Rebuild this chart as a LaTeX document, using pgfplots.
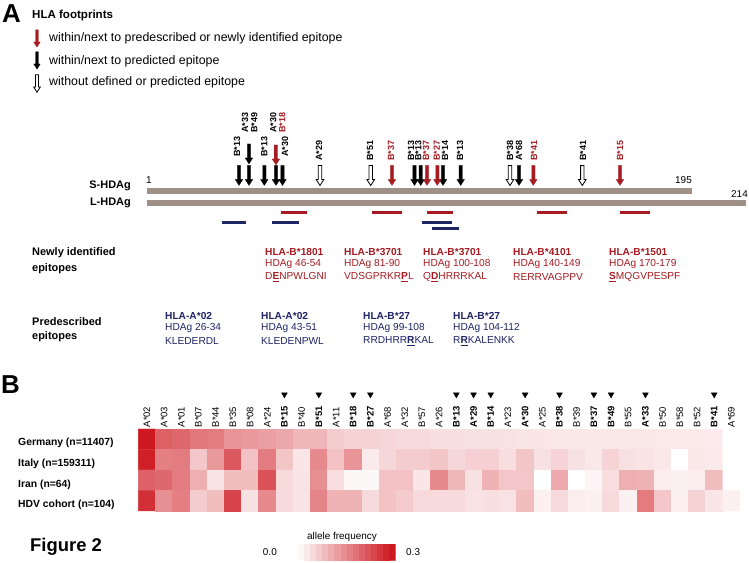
\documentclass[border=0pt]{standalone}
\usepackage{pgfplots}
\pgfplotsset{compat=1.18}
\usepackage{fontspec}
\setmainfont{Liberation Sans}

\definecolor{dred}{RGB}{165,27,33}
\definecolor{dblue}{RGB}{30,36,100}
\definecolor{taupe}{RGB}{158,144,134}

\newcommand\fs[1]{\fontsize{#1}{#1}\selectfont}

\pgfdeclareplotmark{hdarrow}{%
  \pgfpathmoveto{\pgfqpoint{-0.17\pgfplotmarksize}{\pgfplotmarksize}}%
  \pgfpathlineto{\pgfqpoint{0.17\pgfplotmarksize}{\pgfplotmarksize}}%
  \pgfpathlineto{\pgfqpoint{0.17\pgfplotmarksize}{-0.4\pgfplotmarksize}}%
  \pgfpathlineto{\pgfqpoint{0.38\pgfplotmarksize}{-0.4\pgfplotmarksize}}%
  \pgfpathlineto{\pgfqpoint{0pt}{-\pgfplotmarksize}}%
  \pgfpathlineto{\pgfqpoint{-0.38\pgfplotmarksize}{-0.4\pgfplotmarksize}}%
  \pgfpathlineto{\pgfqpoint{-0.17\pgfplotmarksize}{-0.4\pgfplotmarksize}}%
  \pgfpathclose
  \pgfusepathqfillstroke
}

\pgfplotsset{hlamap/.style={colormap={hla}{rgb255(0cm)=(255,255,255); rgb255(1cm)=(204,18,26)},
  point meta min=0, point meta max=0.3}}

\newcommand\lab[4]{\node[rotate=90,anchor=west,inner sep=0,text=#4] at (#1,#2) {\fs{9}\bfseries #3};}

\begin{document}
\begin{tikzpicture}
\useasboundingbox (0,0) rectangle (749bp,563bp);

% ---------------- Panel A: residues on x, pixel rows on y
\begin{axis}[at={(0,0)}, anchor=south west, scale only axis,
  width=749bp, height=563bp, xmin=-51.33, xmax=215.31, ymin=0, ymax=563,
  y dir=reverse, hide axis, clip=false]
% protein bars
\addplot[taupe, line width=5.5bp] coordinates {(1,191) (195,191)};
\addplot[taupe, line width=5.5bp] coordinates {(1,203) (214.2,203)};
% newly identified epitopes
\addplot[dred, line width=3.2bp] coordinates {(48.6,212.3) (58.1,212.3)};
\addplot[dred, line width=3.2bp] coordinates {(81.0,212.3) (91.7,212.3)};
\addplot[dred, line width=3.2bp] coordinates {(100.6,212.3) (110.0,212.3)};
\addplot[dred, line width=3.2bp] coordinates {(139.7,212.3) (150.4,212.3)};
\addplot[dred, line width=3.2bp] coordinates {(169.4,212.3) (180.1,212.3)};
% predescribed epitopes
\addplot[dblue, line width=3.2bp] coordinates {(27.8,222.5) (36.2,222.5)};
\addplot[dblue, line width=3.2bp] coordinates {(45.4,222.5) (55.0,222.5)};
\addplot[dblue, line width=3.2bp] coordinates {(99.0,222.5) (109.7,222.5)};
\addplot[dblue, line width=3.2bp] coordinates {(102.6,228.3) (112.2,228.3)};
% footprint arrows
\addplot[black, only marks, mark=hdarrow, mark size=10bp, mark options={fill=black, draw=black, line width=0.2bp}]
 coordinates {(33.75,175.5) (37.31,175.5) (42.76,175.5) (46.92,175.5) (49.24,175.5)
  (96.23,175.5) (98.44,175.5) (106.38,175.5) (112.68,175.5) (133.43,175.5) (37.3,154)};
\addplot[dred, only marks, mark=hdarrow, mark size=10bp, mark options={fill=dred, draw=dred, line width=0.2bp}]
 coordinates {(88.22,175.5) (100.68,175.5) (104.35,175.5) (138.52,175.5) (169.39,175.5) (46.9,155)};
\addplot[black, only marks, mark=hdarrow, mark size=10bp, mark options={fill=white, draw=black, line width=0.8bp}]
 coordinates {(62.59,175.5) (80.64,175.5) (130.23,175.5) (155.97,175.5)};
% legend arrows
\addplot[dred, only marks, mark=hdarrow, mark size=8.7bp, mark options={fill=dred, draw=dred, line width=0.2bp}]
 coordinates {(-38.16,38.5)};
\addplot[black, only marks, mark=hdarrow, mark size=8.7bp, mark options={fill=black, draw=black, line width=0.2bp}]
 coordinates {(-38.16,60.5)};
\addplot[black, only marks, mark=hdarrow, mark size=8.7bp, mark options={fill=white, draw=black, line width=0.8bp}]
 coordinates {(-38.16,83.5)};
\end{axis}

% ---------------- Panel B: heatmap
\begin{axis}[at={(138.3bp,134bp)}, anchor=north west, scale only axis,
  width=601.7bp, height=82bp, xmin=-0.5, xmax=34.5, ymin=-0.5, ymax=3.5,
  y dir=reverse, enlargelimits=false, clip=false, hlamap,
  axis line style={draw=none}, tick style={draw=none}, ytick=\empty,
  xtick={0,...,34}, xticklabel pos=upper,
  xticklabel style={rotate=90, anchor=west, inner sep=1.5bp, font=\fs{9.5}},
  xticklabels={A*02,A*03,A*01,B*07,B*44,B*35,B*08,A*24,\textbf{B*15},B*40,\textbf{B*51},A*11,\textbf{B*18},\textbf{B*27},A*68,A*32,B*57,A*26,\textbf{B*13},\textbf{A*29},\textbf{B*14},A*23,\textbf{A*30},A*25,\textbf{B*38},B*39,\textbf{B*37},\textbf{B*49},B*55,\textbf{A*33},B*50,B*58,B*52,\textbf{B*41},A*69}]
\addplot[matrix plot*, shader=flat corner, mesh/cols=35, mesh/rows=4, point meta=explicit]
 table[meta=c, row sep=\\] {x y c\\
0 0 0.29\\ 1 0 0.20\\ 2 0 0.19\\ 3 0 0.17\\ 4 0 0.165\\ 5 0 0.135\\ 6 0 0.13\\ 7 0 0.12\\ 8 0 0.11\\ 9 0 0.09\\ 10 0 0.09\\ 11 0 0.064\\ 12 0 0.057\\ 13 0 0.057\\ 14 0 0.051\\ 15 0 0.045\\ 16 0 0.045\\ 17 0 0.04\\ 18 0 0.04\\ 19 0 0.038\\ 20 0 0.038\\ 21 0 0.036\\ 22 0 0.032\\ 23 0 0.032\\ 24 0 0.03\\ 25 0 0.03\\ 26 0 0.03\\ 27 0 0.03\\ 28 0 0.03\\ 29 0 0.03\\ 30 0 0.028\\ 31 0 0.027\\ 32 0 0.027\\ 33 0 0.025\\ 34 0 0\\
0 1 0.28\\ 1 1 0.16\\ 2 1 0.165\\ 3 1 0.07\\ 4 1 0.13\\ 5 1 0.21\\ 6 1 0.077\\ 7 1 0.165\\ 8 1 0.073\\ 9 1 0.032\\ 10 1 0.147\\ 11 1 0.077\\ 12 1 0.134\\ 13 1 0.026\\ 14 1 0.05\\ 15 1 0.064\\ 16 1 0.064\\ 17 1 0.073\\ 18 1 0.05\\ 19 1 0.06\\ 20 1 0.06\\ 21 1 0.042\\ 22 1 0.073\\ 23 1 0.038\\ 24 1 0.055\\ 25 1 0.038\\ 26 1 0.03\\ 27 1 0.055\\ 28 1 0.038\\ 29 1 0.035\\ 30 1 0.03\\ 31 1 0\\ 32 1 0.03\\ 33 1 0.026\\ 34 1 0\\
0 2 0.198\\ 1 2 0.19\\ 2 2 0.165\\ 3 2 0.1\\ 4 2 0.034\\ 5 2 0.083\\ 6 2 0.083\\ 7 2 0.217\\ 8 2 0.045\\ 9 2 0.034\\ 10 2 0.14\\ 11 2 0.042\\ 12 2 0.009\\ 13 2 0.009\\ 14 2 0.077\\ 15 2 0.077\\ 16 2 0.032\\ 17 2 0.147\\ 18 2 0.09\\ 19 2 0.038\\ 20 2 0.096\\ 21 2 0.07\\ 22 2 0.07\\ 23 2 0\\ 24 2 0.108\\ 25 2 0\\ 26 2 0.013\\ 27 2 0.042\\ 28 2 0.1\\ 29 2 0.096\\ 30 2 0.022\\ 31 2 0.017\\ 32 2 0.024\\ 33 2 0.083\\ 34 2 0\\
0 3 0.26\\ 1 3 0.14\\ 2 3 0.16\\ 3 3 0.064\\ 4 3 0.083\\ 5 3 0.236\\ 6 3 0.038\\ 7 3 0.147\\ 8 3 0.047\\ 9 3 0.034\\ 10 3 0.153\\ 11 3 0.096\\ 12 3 0.096\\ 13 3 0.047\\ 14 3 0.077\\ 15 3 0.064\\ 16 3 0.047\\ 17 3 0.047\\ 18 3 0.045\\ 19 3 0.037\\ 20 3 0.04\\ 21 3 0.037\\ 22 3 0.083\\ 23 3 0.019\\ 24 3 0.047\\ 25 3 0.024\\ 26 3 0.019\\ 27 3 0.045\\ 28 3 0.017\\ 29 3 0.166\\ 30 3 0.07\\ 31 3 0.019\\ 32 3 0.057\\ 33 3 0.032\\ 34 3 0.019\\
};
\addplot[black, only marks, mark=triangle*, mark size=3.3bp, mark options={rotate=180, fill=black}]
 coordinates {(8,-2.18) (10,-2.18) (12,-2.18) (13,-2.18) (18,-2.18) (19,-2.18) (20,-2.18) (22,-2.18) (24,-2.18) (26,-2.18) (27,-2.18) (29,-2.18) (33,-2.18)};
\end{axis}

% ---------------- colour scale
\begin{axis}[at={(298bp,19bp)}, anchor=north west, scale only axis,
  width=97.7bp, height=16.7bp, xmin=-0.5, xmax=15.5, ymin=-0.5, ymax=1.5,
  hide axis, enlargelimits=false, hlamap]
\addplot[matrix plot*, shader=flat corner, mesh/cols=16, mesh/rows=2, point meta=explicit]
 table[meta=c, row sep=\\] {x y c\\
0 0 0.0094\\ 1 0 0.0281\\ 2 0 0.0469\\ 3 0 0.0656\\ 4 0 0.0844\\ 5 0 0.1031\\ 6 0 0.1219\\ 7 0 0.1406\\ 8 0 0.1594\\ 9 0 0.1781\\ 10 0 0.1969\\ 11 0 0.2156\\ 12 0 0.2344\\ 13 0 0.2531\\ 14 0 0.2719\\ 15 0 0.2906\\
0 1 0.0094\\ 1 1 0.0281\\ 2 1 0.0469\\ 3 1 0.0656\\ 4 1 0.0844\\ 5 1 0.1031\\ 6 1 0.1219\\ 7 1 0.1406\\ 8 1 0.1594\\ 9 1 0.1781\\ 10 1 0.1969\\ 11 1 0.2156\\ 12 1 0.2344\\ 13 1 0.2531\\ 14 1 0.2719\\ 15 1 0.2906\\
};
\end{axis}

% ---------------- texts (pixel coordinates, y downwards)
\begin{scope}[shift={(0bp,563bp)}, x=1bp, y=-1bp]
\node[anchor=north west, inner sep=0] at (2,4.5) {\fs{26}\bfseries A};
\node[anchor=west, inner sep=0] at (32,16) {\fs{11.6}\bfseries HLA footprints};
\node[anchor=west, inner sep=0] at (49,38.3) {\fs{12.4}within/next to predescribed or newly identified epitope};
\node[anchor=west, inner sep=0] at (49,61.5) {\fs{12.4}within/next to predicted epitope};
\node[anchor=west, inner sep=0] at (49,82) {\fs{12.4}without defined or predicted epitope};

\node[anchor=east, inner sep=0] at (131,186) {\fs{11}\bfseries S-HDAg};
\node[anchor=east, inner sep=0] at (131,203) {\fs{11}\bfseries L-HDAg};
\node[anchor=west, inner sep=0] at (146,180) {\fs{10}1};
\node[anchor=east, inner sep=0] at (692,180) {\fs{10}195};
\node[anchor=east, inner sep=0] at (748,194) {\fs{10}214};

\lab{237}{157}{B*13}{black}
\lab{245}{133}{A*33}{black}
\lab{254.3}{133}{B*49}{black}
\lab{264.3}{157}{B*13}{black}
\lab{273.3}{133}{A*30}{black}
\lab{282.3}{133}{B*18}{dred}
\lab{285}{157}{A*30}{black}
\lab{319}{161}{A*29}{black}
\lab{370}{161}{B*51}{black}
\lab{391}{161}{B*37}{dred}
\lab{411}{161}{B*13}{black}
\lab{418.3}{161}{B*13}{black}
\lab{426}{161}{B*37}{dred}
\lab{436.7}{161}{B*27}{dred}
\lab{445}{161}{B*14}{black}
\lab{460}{161}{B*13}{black}
\lab{510}{161}{B*38}{black}
\lab{519}{161}{A*68}{black}
\lab{534}{161}{B*41}{dred}
\lab{583}{161}{B*41}{black}
\lab{620}{161}{B*15}{dred}

\node[anchor=west, inner sep=0] at (32,253) {\fs{11}\bfseries Newly identified};
\node[anchor=west, inner sep=0] at (32,269) {\fs{11}\bfseries epitopes};
\node[anchor=west, inner sep=0] at (32,322) {\fs{11}\bfseries Predescribed};
\node[anchor=west, inner sep=0] at (32,337) {\fs{11}\bfseries epitopes};

\begin{scope}[every node/.style={anchor=west, inner sep=0, text=dred, font=\fs{10.2}}]
\node at (265,252) {\bfseries HLA-B*1801};
\node at (265,264.5) {HDAg 46-54};
\node at (265,277) {D\underline{\textbf{E}}NPWLGNI};
\node at (344,252) {\bfseries HLA-B*3701};
\node at (344,264.5) {HDAg 81-90};
\node at (344,277) {VDSGPRKR\underline{\textbf{P}}L};
\node at (423,252) {\bfseries HLA-B*3701};
\node at (423,264.5) {HDAg 100-108};
\node at (423,277) {Q\underline{\textbf{D}}HRRRKAL};
\node at (513,252) {\bfseries HLA-B*4101};
\node at (513,264.5) {HDAg 140-149};
\node at (513,277) {RERRVAGPPV};
\node at (609,252) {\bfseries HLA-B*1501};
\node at (609,264.5) {HDAg 170-179};
\node at (609,277) {\underline{\textbf{S}}MQGVPESPF};
\end{scope}
\begin{scope}[every node/.style={anchor=west, inner sep=0, text=dblue, font=\fs{10.2}}]
\node at (165,316) {\bfseries HLA-A*02};
\node at (165,328.5) {HDAg 26-34};
\node at (165,341) {KLEDERDL};
\node at (261,316) {\bfseries HLA-A*02};
\node at (261,328.5) {HDAg 43-51};
\node at (261,341) {KLEDENPWL};
\node at (363,316) {\bfseries HLA-B*27};
\node at (363,328.5) {HDAg 99-108};
\node at (363,341) {RRDHRR\underline{\textbf{R}}KAL};
\node at (453,316) {\bfseries HLA-B*27};
\node at (453,328.5) {HDAg 104-112};
\node at (453,341) {R\underline{\textbf{R}}KALENKK};
\end{scope}

\node[anchor=north west, inner sep=0] at (1,375) {\fs{26}\bfseries B};
\node[anchor=west, inner sep=0] at (18,443) {\fs{10.4}\bfseries Germany (n=11407)};
\node[anchor=west, inner sep=0] at (18,464) {\fs{10.4}\bfseries Italy (n=159311)};
\node[anchor=west, inner sep=0] at (18,484.5) {\fs{10.4}\bfseries Iran (n=64)};
\node[anchor=west, inner sep=0] at (18,505) {\fs{10.4}\bfseries HDV cohort (n=104)};

\node[anchor=west, inner sep=0] at (30,547) {\fs{18.5}\bfseries Figure 2};
\node[inner sep=0] at (342,537) {\fs{10}allele frequency};
\node[anchor=east, inner sep=0] at (277,552) {\fs{10}0.0};
\node[anchor=west, inner sep=0] at (406,552) {\fs{10}0.3};
\end{scope}
\end{tikzpicture}
\end{document}
